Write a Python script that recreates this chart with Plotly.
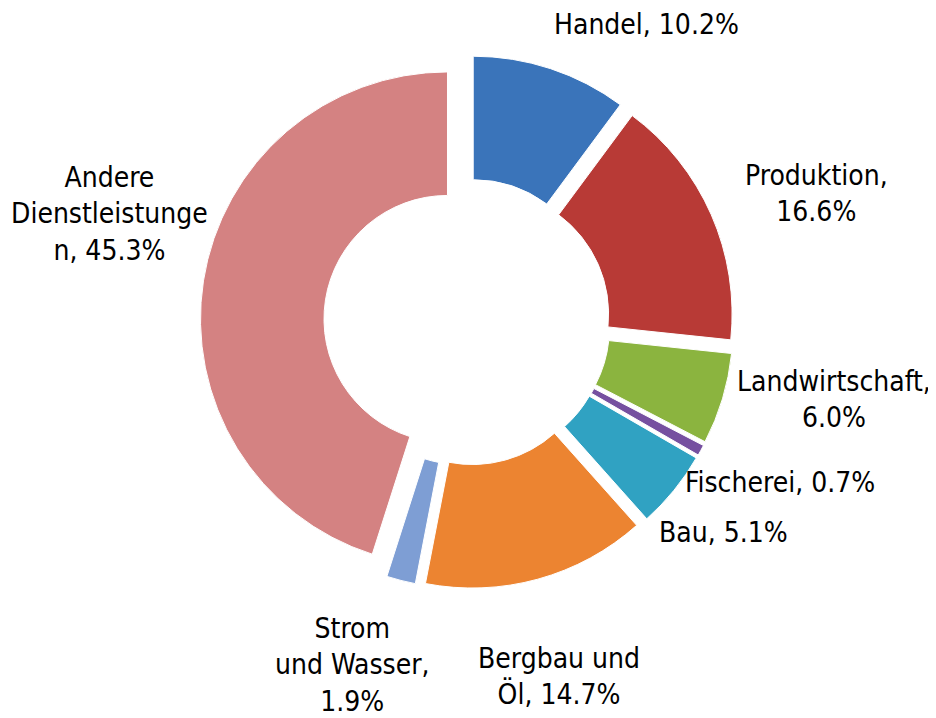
import math
import plotly.graph_objects as go

categories = ["Handel", "Produktion", "Landwirtschaft", "Fischerei", "Bau",
              "Bergbau und Öl", "Strom und Wasser", "Andere Dienstleistungen"]
label_lines = ["Handel,", "Produktion,<br>", "Landwirtschaft,<br>", "Fischerei,", "Bau,",
               "Bergbau und<br>Öl,", "Strom<br>und Wasser,<br>", "Andere<br>Dienstleistunge<br>n,"]
values = [10.2, 16.6, 6.0, 0.7, 5.1, 14.7, 1.9, 45.3]
colors = ["#3A74BA", "#B83A36", "#8BB43F", "#7650A0", "#30A2C2",
          "#EC8431", "#7E9ED4", "#D48282"]

# layout of the data labels (radial distance as a multiple of the outer radius,
# and angular nudge from the slice mid-angle, degrees)
LABEL_K = [1.405, 1.51, 1.52, 1.425, 1.345, 1.485, 1.465, 1.51]
LABEL_DANGLE = [12.8, 3.5, -4.8, -1.6, 0.2, 0.8, 4.1, 7.9]

W, H = 936, 718
PULL = 0.08
dom_x = [0.2054, 0.7754]
dom_y = [0.1911, 0.9343]
FONT = "DejaVu Sans Condensed, Liberation Sans Narrow, sans-serif"

texts = []
for lab, v in zip(label_lines, values):
    sep = "" if lab.endswith("<br>") else " "
    texts.append(f"{lab}{sep}{v:.1f}%")

fig = go.Figure(go.Pie(
    labels=categories,
    values=values,
    textinfo="none",
    hole=0.5,
    sort=False,
    direction="clockwise",
    rotation=0,
    pull=[PULL] * len(values),
    marker=dict(colors=colors, line=dict(color="white", width=1)),
    domain=dict(x=dom_x, y=dom_y),
    showlegend=False,
    hoverinfo="label+value",
))

# label placement derived from the slice mid-angles
cx = (dom_x[0] + dom_x[1]) / 2 * W
cy = (1 - (dom_y[0] + dom_y[1]) / 2) * H
R = min((dom_x[1] - dom_x[0]) * W, (dom_y[1] - dom_y[0]) * H) / 2 / (1 + PULL)
total = sum(values)
cum = 0.0
for t, v, k, da in zip(texts, values, LABEL_K, LABEL_DANGLE):
    theta = math.radians((cum + v / 2) / total * 360 + da)
    cum += v
    px = cx + k * R * math.sin(theta)
    py = cy - k * R * math.cos(theta)
    fig.add_annotation(x=px / W, y=1 - py / H, xref="paper", yref="paper",
                       text=t, showarrow=False, xanchor="center", yanchor="middle",
                       align="center",
                       font=dict(family=FONT, size=28, color="black"))

fig.update_layout(
    width=W, height=H,
    margin=dict(l=0, r=0, t=0, b=0),
    paper_bgcolor="white",
    plot_bgcolor="white",
    showlegend=False,
)

fig.write_html("out.html")
